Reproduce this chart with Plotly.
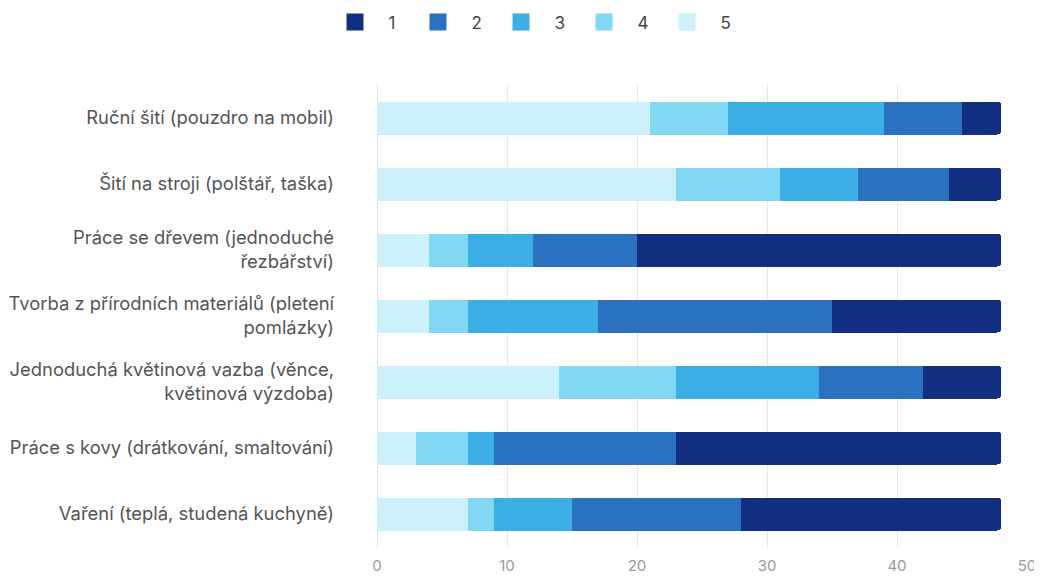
import plotly.graph_objects as go

categories = [
    "Ruční šití (pouzdro na mobil)",
    "Šití na stroji (polštář, taška)",
    "Práce se dřevem (jednoduché<br>řezbářství)",
    "Tvorba z přírodních materiálů (pletení<br>pomlázky)",
    "Jednoduchá květinová vazba (věnce,<br>květinová výzdoba)",
    "Práce s kovy (drátkování, smaltování)",
    "Vaření (teplá, studená kuchyně)",
]
s1 = [3, 4, 28, 13, 6, 25, 20]
s2 = [6, 7, 8, 18, 8, 14, 13]
s3 = [12, 6, 5, 10, 11, 2, 6]
s4 = [6, 8, 3, 3, 9, 4, 2]
s5 = [21, 23, 4, 4, 14, 3, 7]
names = ["1", "2", "3", "4", "5"]
colors = ["#112e80", "#2a71c0", "#3aaee5", "#82d8f3", "#cdf1fa"]

series = [s1, s2, s3, s4, s5]
fig = go.Figure()
for i in [4, 3, 2, 1, 0]:
    fig.add_trace(go.Bar(
        y=categories, x=series[i], name=names[i], orientation="h",
        marker=dict(color=colors[i], line=dict(width=0)), showlegend=False,
    ))
for i in range(5):
    fig.add_trace(go.Scatter(
        x=[None], y=[None], mode="markers", name=names[i],
        marker=dict(symbol="square", size=15, color=colors[i],
                    line=dict(width=2, color=colors[i])),
    ))

fig.update_layout(
    width=1042, height=576,
    barmode="stack", bargap=0.5, barcornerradius=4,
    paper_bgcolor="white", plot_bgcolor="white",
    margin=dict(l=369, r=23, t=77, b=37),
    font=dict(family="Inter", size=16, color="#555555"),
    legend=dict(orientation="h", x=0.5, xanchor="center", xref="container",
                y=0.975, yanchor="middle",
                yref="container", font=dict(size=17, color="#444"), traceorder="normal",
                itemwidth=57, entrywidth=11),
    xaxis=dict(range=[0, 50], dtick=10, showgrid=True, gridcolor="#e8e8e8",
               zeroline=True, zerolinecolor="#dde0f0", zerolinewidth=1, automargin=False,
               tickfont=dict(color="#999999", size=15), ticks="", fixedrange=True,
               ticklabelstandoff=8),
    yaxis=dict(autorange="reversed", ticks="", ticklabelstandoff=42, automargin=False,
               tickfont=dict(color="#555555", size=18.4), showgrid=False),
    showlegend=True,
)
fig.write_html("out.html")
